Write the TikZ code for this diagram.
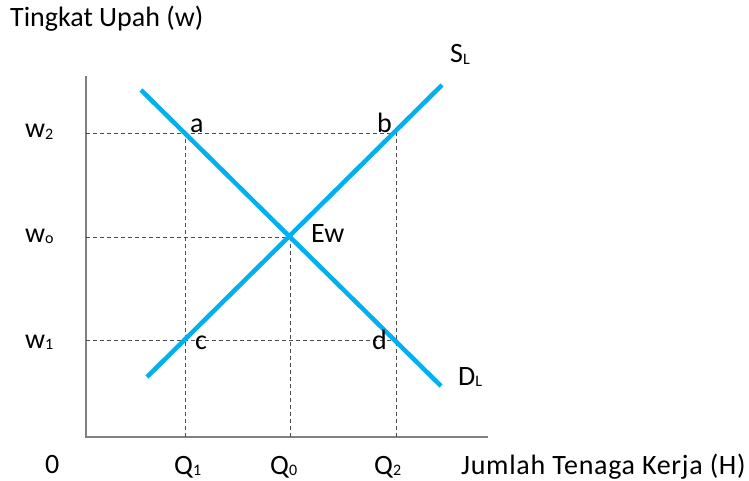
\documentclass[tikz,border=0pt]{standalone}
\usepackage{xcolor}
\usepackage{fontspec}
\setmainfont{Carlito}
\newfontfamily\widefont[LetterSpace=2.5]{Carlito}
\usepackage{tikz}
\usetikzlibrary{positioning}

\definecolor{curveblue}{RGB}{0,176,240}
\definecolor{axisgray}{RGB}{128,128,128}
\newcommand{\lowidx}[1]{\raisebox{-1.5pt}{\fontsize{16}{16}\selectfont #1}}

\begin{document}
\begin{tikzpicture}[
    x=1pt, y=-1pt,
    axisline/.style={draw=axisgray, line width=1.6pt},
    curve/.style={draw=curveblue, line width=4.5pt},
    guide/.style={draw=black!70, line width=0.8pt, dash pattern=on 4pt off 3pt},
    lbl/.style={font=\fontsize{28}{28}\selectfont, inner sep=0pt, anchor=base west}
]
\useasboundingbox (0,0) rectangle (749,481);

% Axes
\coordinate (origin) at (86,437);
\coordinate (ytop) at (86,76);
\coordinate (xend) at (488,437);
\draw[axisline] (ytop) -- (origin) -- (xend);

% Points
\coordinate (a) at (185,133);
\coordinate (b) at (396,133);
\coordinate (ew) at (290,237);
\coordinate (c) at (185,340);
\coordinate (d) at (396,340);
\coordinate (w2axis) at (86,133);
\coordinate (w0axis) at (86,237);
\coordinate (w1axis) at (86,340);
\coordinate (q1axis) at (185,437);
\coordinate (q0axis) at (290,437);
\coordinate (q2axis) at (396,437);

% Guides
\draw[guide] (w2axis) -- (b);
\draw[guide] (w0axis) -- (ew);
\draw[guide] (w1axis) -- (d);
\draw[guide] (q1axis) -- (a);
\draw[guide] (q0axis) -- (ew);
\draw[guide] (q2axis) -- (b);

% Curves
\coordinate (dtop) at (141,90);
\coordinate (dbot) at (441,386);
\coordinate (sbot) at (147,377);
\coordinate (stop) at (442,85);
\draw[curve] (dtop) -- (dbot);
\draw[curve] (sbot) -- (stop);

% Labels
\node[lbl] (ylabel) at (10,27) {Tingkat Upah (w)};
\node[lbl, font=\widefont\fontsize{28}{28}\selectfont] (xlabel) at (461,474) {Jumlah Tenaga Kerja (H)};
\node[lbl] (zero) at (45,473) {0};
\node[lbl] (lw2) at (25,138) {w\lowidx{2}};
\node[lbl] (lw0) at (25,242) {w\lowidx{o}};
\node[lbl] (lw1) at (25,348) {w\lowidx{1}};
\node[lbl] (lq1) at (174,474) {Q\lowidx{1}};
\node[lbl] (lq0) at (270,474) {Q\lowidx{0}};
\node[lbl] (lq2) at (374,474) {Q\lowidx{2}};
\node[lbl] (la) at (190,133) {a};
\node[lbl] (lb) at (377,133) {b};
\node[lbl] (lew) at (311,242) {Ew};
\node[lbl] (lc) at (195,349) {c};
\node[lbl] (ld) at (372,349) {d};
\node[lbl] (lsl) at (450,63) {S\lowidx{L}};
\node[lbl] (ldl) at (458,385) {D\lowidx{L}};
\end{tikzpicture}
\end{document}
